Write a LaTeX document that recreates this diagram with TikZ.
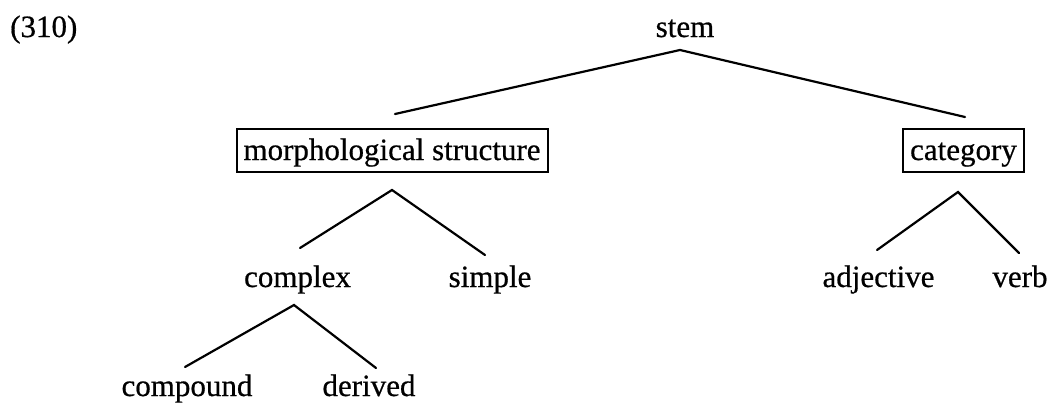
\documentclass[tikz,border=0pt]{standalone}
\usepackage{fontspec}
\setmainfont[FakeBold=0.6]{Liberation Serif}
\begin{document}
\begin{tikzpicture}[x=1pt,y=-1pt,
  lbl/.style={inner sep=0pt,anchor=base,font=\fontsize{31}{36}\selectfont},
  boxlbl/.style={lbl,draw,line width=2pt,inner xsep=7pt,inner ysep=0pt,text height=31pt,text depth=12pt},
  branch/.style={line width=2.2pt,line cap=round,line join=miter}]
\useasboundingbox (0,0) rectangle (1051,407);
% labels
\node[lbl,anchor=base west] (num) at (10,37) {(310)};
\node[lbl] (stem) at (685,37) {stem};
\node[boxlbl] (morph) at (392,160) {morphological structure};
\node[boxlbl] (cat) at (963.5,160) {category};
\node[lbl] (complex) at (297.5,287) {complex};
\node[lbl] (simple) at (490,287) {simple};
\node[lbl] (adj) at (878.5,287) {adjective};
\node[lbl] (verb) at (1020,287) {verb};
\node[lbl] (compound) at (187,396) {compound};
\node[lbl] (derived) at (369,396) {derived};
% branch points
\coordinate (stemA) at (680,50);
\coordinate (stemL) at (395,114);
\coordinate (stemR) at (965,117);
\coordinate (morphA) at (392,190);
\coordinate (morphL) at (300,248);
\coordinate (morphR) at (485,255);
\coordinate (catA) at (958,192);
\coordinate (catL) at (877,250);
\coordinate (catR) at (1019,253);
\coordinate (cxA) at (294,305);
\coordinate (cxL) at (185,367);
\coordinate (cxR) at (376,368);
% branches
\draw[branch] (stemL) -- (stemA) -- (stemR);
\draw[branch] (morphL) -- (morphA) -- (morphR);
\draw[branch] (catL) -- (catA) -- (catR);
\draw[branch] (cxL) -- (cxA) -- (cxR);
\end{tikzpicture}
\end{document}
